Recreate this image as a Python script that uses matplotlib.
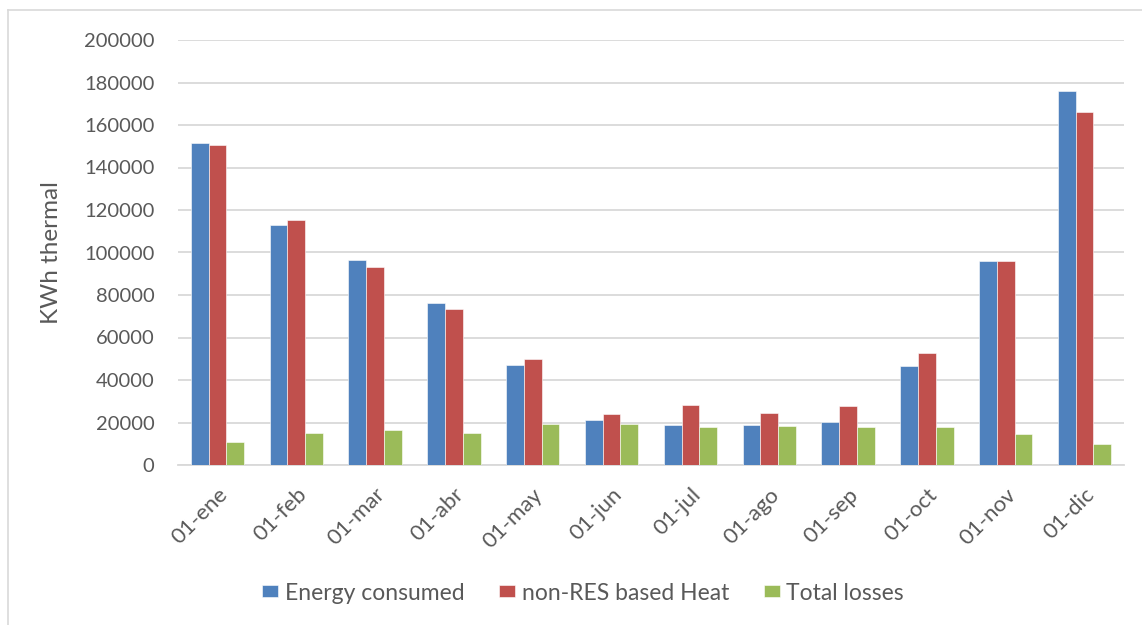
import numpy as np
import matplotlib.pyplot as plt
from matplotlib.lines import Line2D

months = ["01-ene", "01-feb", "01-mar", "01-abr", "01-may", "01-jun",
          "01-jul", "01-ago", "01-sep", "01-oct", "01-nov", "01-dic"]
energy_consumed = [151400, 112800, 96700, 76200, 46900, 21200,
                   18600, 18700, 20200, 46700, 96200, 176100]
non_res_heat = [150600, 115200, 93100, 73600, 50000, 24100,
                28300, 24500, 28000, 52700, 95900, 166100]
total_losses = [10600, 15000, 16700, 15000, 19400, 19100,
                18100, 18300, 17700, 18100, 14400, 9700]

series = [("Energy consumed", energy_consumed, "#4f81bd"),
          ("non-RES based Heat", non_res_heat, "#c0504d"),
          ("Total losses", total_losses, "#9bbb59")]

plt.rcParams['font.family'] = ['Lato', 'DejaVu Sans']
txt = "#595959"
grid = "#d9d9d9"

fig = plt.figure(figsize=(11.42, 6.25), dpi=100)
ax = fig.add_axes([178 / 1142, 1 - 465 / 625, (1124 - 178) / 1142, 425 / 625])

x = np.arange(len(months))
w = 0.225
for i, (name, vals, col) in enumerate(series):
    ax.bar(x + (i - 1) * w, vals, w, color=col, label=name,
           edgecolor="white", linewidth=0.4, zorder=3)

ax.set_xlim(-0.5, len(months) - 0.5)
ax.set_ylim(0, 200000)
ax.set_yticks(np.arange(0, 200001, 20000))
ax.yaxis.grid(True, color=grid, linewidth=1.3, zorder=0)
for s in ["top", "right", "left"]:
    ax.spines[s].set_visible(False)
ax.spines["bottom"].set_color(grid)
ax.spines["bottom"].set_linewidth(1.3)
ax.tick_params(axis="y", length=0, labelcolor=txt, labelsize=14.5, pad=17)
ax.set_xticks(x)
ax.set_xticklabels(months, rotation=45, ha="right", rotation_mode="anchor")
ax.tick_params(axis="x", length=0, labelcolor=txt, labelsize=16, pad=14)
ax.set_ylabel("KWh thermal", color=txt, fontsize=17.5, labelpad=16)

fig.legend(loc="center", bbox_to_anchor=(583 / 1142, 1 - 593 / 625), ncol=3,
           frameon=False, fontsize=16.5, labelcolor=txt, handlelength=0.7,
           handleheight=0.45, handletextpad=0.3, columnspacing=1.5)

# outer chart border (top and left visible)
fig.add_artist(Line2D([8 / 1142, 8 / 1142], [0, 1 - 10 / 625], color=grid,
                      linewidth=1.2, transform=fig.transFigure))
fig.add_artist(Line2D([8 / 1142, 1], [1 - 10 / 625, 1 - 10 / 625], color=grid,
                      linewidth=1.2, transform=fig.transFigure))

fig.savefig("out.png", dpi=100)
